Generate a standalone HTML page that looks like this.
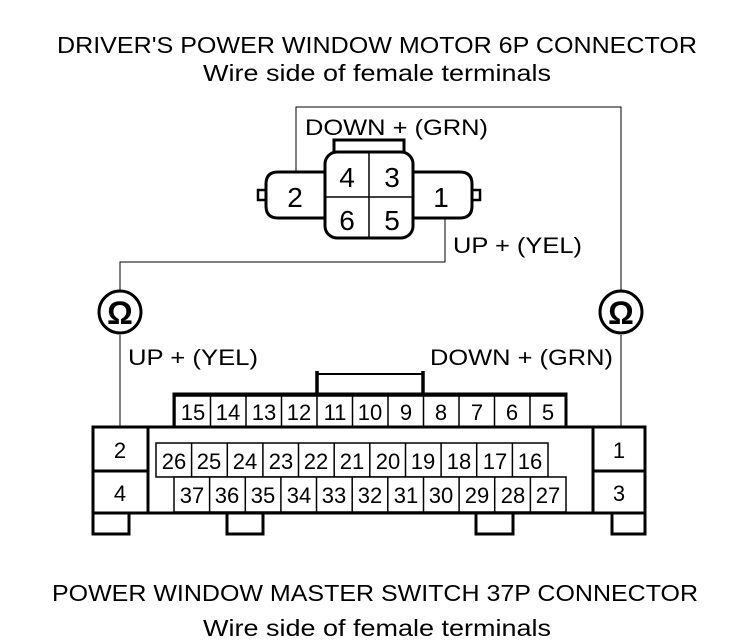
<!DOCTYPE html>
<html><head><meta charset="utf-8"><style>
html,body{margin:0;padding:0;background:#fff;}
svg{display:block;}
text{font-family:"Liberation Sans",Arial,sans-serif;fill:#000;}
</style></head><body>
<svg width="736" height="644" viewBox="0 0 736 644" xmlns="http://www.w3.org/2000/svg">
<g font-size="23">
<text x="57" y="53" textLength="640" lengthAdjust="spacingAndGlyphs">DRIVER'S POWER WINDOW MOTOR 6P CONNECTOR</text>
<text x="203" y="81" textLength="348" lengthAdjust="spacingAndGlyphs">Wire side of female terminals</text>
<text x="52" y="601" textLength="646" lengthAdjust="spacingAndGlyphs">POWER WINDOW MASTER SWITCH 37P CONNECTOR</text>
<text x="203" y="636" textLength="348" lengthAdjust="spacingAndGlyphs">Wire side of female terminals</text>
</g>
<g stroke="#000" stroke-width="1" fill="none">
<polyline points="296,172 296,107 621,107 621,291"/>
<line x1="621" y1="335" x2="621" y2="428"/>
<polyline points="445,218 445,262 120,262 120,291"/>
<line x1="120" y1="335" x2="120" y2="428"/>
</g>
<g font-size="22">
<text x="305" y="135" textLength="183" lengthAdjust="spacingAndGlyphs">DOWN +  (GRN)</text>
<text x="453" y="253" textLength="129" lengthAdjust="spacingAndGlyphs">UP +  (YEL)</text>
<text x="128" y="365" textLength="130" lengthAdjust="spacingAndGlyphs">UP +  (YEL)</text>
<text x="430" y="365" textLength="183" lengthAdjust="spacingAndGlyphs">DOWN +  (GRN)</text>
</g>
<g stroke="#000" stroke-width="3" fill="#fff">
<circle cx="120" cy="312" r="21"/>
<circle cx="621" cy="312" r="21"/>
</g>
<text x="120" y="324" text-anchor="middle" font-size="32" font-weight="bold">Ω</text>
<text x="621" y="324" text-anchor="middle" font-size="32" font-weight="bold">Ω</text>
<g stroke="#000" stroke-width="3" fill="#fff">
<rect x="258" y="190" width="8" height="10" stroke-width="2.5"/>
<rect x="472" y="190" width="8" height="10" stroke-width="2.5"/>
<path d="M328,172 H278 Q266,172 266,184 V206 Q266,218 278,218 H328 Z"/>
<path d="M410,172 H460 Q472,172 472,184 V206 Q472,218 460,218 H410 Z"/>
<rect x="334" y="140" width="70" height="13"/>
<rect x="325" y="152" width="88" height="86" rx="12"/>
</g>
<g stroke="#000" stroke-width="1.5">
<line x1="369" y1="152" x2="369" y2="238"/>
<line x1="325" y1="197" x2="413" y2="197"/>
</g>
<g font-size="28" text-anchor="middle">
<text x="295" y="207">2</text>
<text x="441" y="207">1</text>
<text x="347" y="187">4</text>
<text x="392" y="187">3</text>
<text x="347" y="230">6</text>
<text x="392" y="230">5</text>
</g>
<g stroke="#000" stroke-width="3" fill="#fff">
<rect x="93" y="512" width="36" height="22"/>
<rect x="227" y="512" width="36" height="22"/>
<rect x="476" y="512" width="37" height="22"/>
<rect x="612" y="512" width="33" height="22"/>
<rect x="174" y="394" width="392" height="34"/>
<rect x="93" y="427" width="552" height="86"/>
</g>
<g stroke="#000" fill="none">
<line x1="317" y1="371" x2="317" y2="396" stroke-width="3.5"/>
<line x1="423" y1="371" x2="423" y2="396" stroke-width="3.5"/>
<line x1="317" y1="374" x2="423" y2="374" stroke-width="2"/>
</g>
<g stroke="#000" stroke-width="3" fill="none">
<line x1="148" y1="427" x2="148" y2="513"/>
<line x1="593" y1="427" x2="593" y2="513"/>
<line x1="93" y1="471" x2="148" y2="471"/>
<line x1="593" y1="471" x2="645" y2="471"/>
</g>
<g stroke="#000" stroke-width="1.5" fill="#fff">
<rect x="156" y="443" width="392" height="34"/>
<rect x="174" y="477" width="392" height="35"/>
<rect x="175" y="396" width="391" height="31" fill="none"/>
</g>
<g stroke="#000" stroke-width="1.5">
<path d="M210.5,396V427M246,396V427M281.5,396V427M317,396V427M352.5,396V427M388,396V427M423.5,396V427M459,396V427M494.5,396V427M530,396V427"/>
<path d="M191.6,443V477M227.3,443V477M262.9,443V477M298.5,443V477M334.2,443V477M369.8,443V477M405.5,443V477M441.1,443V477M476.7,443V477M512.4,443V477"/>
<path d="M209.6,477V512M245.3,477V512M280.9,477V512M316.5,477V512M352.2,477V512M387.8,477V512M423.5,477V512M459.1,477V512M494.7,477V512M530.4,477V512"/>
</g>
<g font-size="22" text-anchor="middle">
<text x="193" y="420">15</text><text x="228" y="420">14</text><text x="264" y="420">13</text><text x="299" y="420">12</text><text x="335" y="420">11</text><text x="370" y="420">10</text><text x="406" y="420">9</text><text x="441" y="420">8</text><text x="477" y="420">7</text><text x="512" y="420">6</text><text x="548" y="420">5</text>
<text x="174" y="469">26</text><text x="209" y="469">25</text><text x="245" y="469">24</text><text x="281" y="469">23</text><text x="316" y="469">22</text><text x="352" y="469">21</text><text x="388" y="469">20</text><text x="423" y="469">19</text><text x="459" y="469">18</text><text x="495" y="469">17</text><text x="530" y="469">16</text>
<text x="192" y="503">37</text><text x="227" y="503">36</text><text x="263" y="503">35</text><text x="299" y="503">34</text><text x="334" y="503">33</text><text x="370" y="503">32</text><text x="406" y="503">31</text><text x="441" y="503">30</text><text x="477" y="503">29</text><text x="513" y="503">28</text><text x="548" y="503">27</text>
<text x="120" y="458">2</text><text x="120" y="501">4</text>
<text x="619" y="458">1</text><text x="619" y="501">3</text>
</g>
</svg>
</body></html>
